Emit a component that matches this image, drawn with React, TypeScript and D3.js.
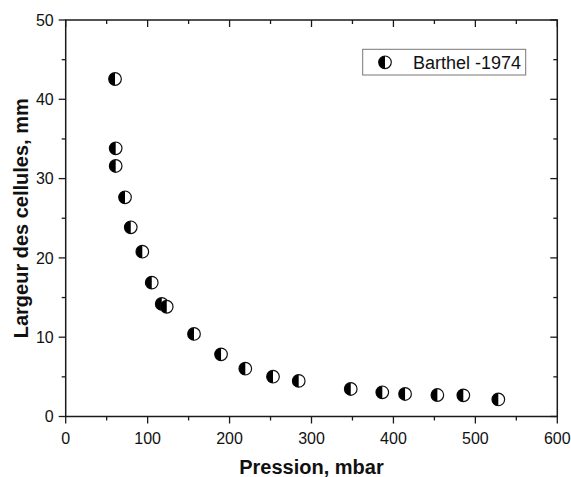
import React, { useEffect, useRef } from "react";
import * as d3 from "d3";

const pressure = [60.2, 61.0, 61.0, 72.4, 79.4, 93.5, 105, 117.2, 123.3, 156.6, 189.6, 219.2, 253, 284.4, 347.9, 386.4, 414.2, 453.6, 485.3, 528];
const width_mm = [42.56, 33.82, 31.59, 27.64, 23.86, 20.78, 16.88, 14.19, 13.84, 10.41, 7.84, 6.03, 5.02, 4.49, 3.47, 3.05, 2.84, 2.71, 2.67, 2.15];
const xTicks = [0, 100, 200, 300, 400, 500, 600];
const yTicks = [0, 10, 20, 30, 40, 50];
const seriesName = "Barthel -1974";
const xLabel = "Pression, mbar";
const yLabel = "Largeur des cellules, mm";

const W = 571, H = 477;
const L = 65.7, R = 557.3, T = 20, B = 416.5;
const FONT = "Arial, 'Liberation Sans', sans-serif";

export default function App() {
  const ref = useRef<SVGSVGElement>(null);
  useEffect(() => {
    const svg = d3.select(ref.current);
    svg.selectAll("*").remove();
    const x = d3.scaleLinear().domain([0, 600]).range([L, R]);
    const y = d3.scaleLinear().domain([0, 50]).range([B, T]);
    const xMinor = d3.range(50, 600, 100);
    const yMinor = d3.range(5, 50, 10);
    const axCol = "#1a1a1a";

    const g = svg.append("g");
    g.append("rect").attr("x", x(0)).attr("y", y(50)).attr("width", x(600) - x(0)).attr("height", y(0) - y(50))
      .attr("fill", "none").attr("stroke", axCol).attr("stroke-width", 1.5);

    const tick = (x1: number, y1: number, x2: number, y2: number) =>
      g.append("line").attr("x1", x1).attr("y1", y1).attr("x2", x2).attr("y2", y2).attr("stroke", axCol).attr("stroke-width", 1.3);

    xTicks.forEach(v => {
      tick(x(v), B, x(v), B + 7);
      tick(x(v), T, x(v), T + 7);
      g.append("text").attr("x", x(v)).attr("y", B + 27).attr("text-anchor", "middle")
        .attr("font-family", FONT).attr("font-size", 16).attr("fill", "#111").text(v);
    });
    xMinor.forEach(v => {
      tick(x(v), B, x(v), B + 4);
      tick(x(v), T, x(v), T + 4);
    });
    yTicks.forEach(v => {
      tick(L, y(v), L - 7, y(v));
      tick(R, y(v), R - 7, y(v));
      g.append("text").attr("x", L - 12).attr("y", y(v)).attr("dy", "0.36em").attr("text-anchor", "end")
        .attr("font-family", FONT).attr("font-size", 16).attr("fill", "#111").text(v);
    });
    yMinor.forEach(v => {
      tick(L, y(v), L - 4, y(v));
      tick(R, y(v), R - 4, y(v));
    });

    g.append("text").attr("x", (L + R) / 2).attr("y", 474).attr("text-anchor", "middle")
      .attr("font-family", FONT).attr("font-size", 20).attr("font-weight", "bold").attr("fill", "#111").text(xLabel);
    g.append("text").attr("transform", `translate(28,${(T + B) / 2}) rotate(-90)`).attr("text-anchor", "middle")
      .attr("font-family", FONT).attr("font-size", 20).attr("font-weight", "bold").attr("fill", "#111").text(yLabel);

    const r = 6.3;
    const marker = (sel: d3.Selection<SVGGElement, unknown, null, undefined>) => {
      sel.append("circle").attr("r", r).attr("fill", "white").attr("stroke", "#111").attr("stroke-width", 1.2);
      sel.append("path").attr("d", `M0,${-r} A${r},${r} 0 0 0 0,${r} Z`).attr("fill", "#000");
    };

    const data = pressure.map((p, i) => [p, width_mm[i]]);
    data.forEach(([p, w]) => {
      const m = g.append("g").attr("transform", `translate(${x(p)},${y(w)})`);
      marker(m);
    });

    g.append("rect").attr("x", 362.7).attr("y", 49.3).attr("width", 163).attr("height", 25.7)
      .attr("fill", "white").attr("stroke", "#777").attr("stroke-width", 1);
    const lm = g.append("g").attr("transform", "translate(385,62.3)");
    marker(lm);
    g.append("text").attr("x", 413).attr("y", 62.3).attr("dy", "0.36em")
      .attr("font-family", FONT).attr("font-size", 18).attr("fill", "#111").text(seriesName);
  }, []);
  return (
    <svg ref={ref} width={W} height={H} style={{ position: "absolute", left: 0, top: 0, background: "white" }} />
  );
}
